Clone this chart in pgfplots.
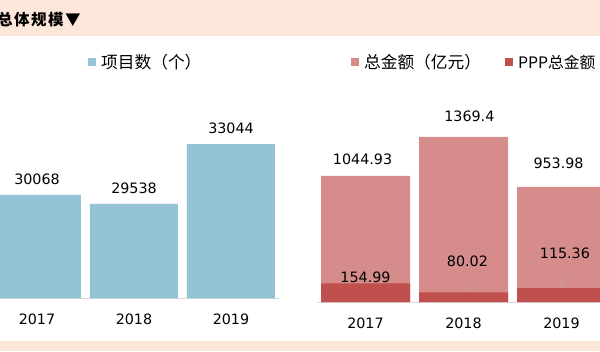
\documentclass[border=0pt]{standalone}
\usepackage{pgfplots}
\pgfplotsset{compat=1.18}
\usepackage{fontspec}
\setmainfont{DejaVu Sans}
\newfontfamily\cjk{Noto Sans CJK SC}
\definecolor{barblue}{RGB}{147,195,212}
\definecolor{totpink}{RGB}{213,140,138}
\definecolor{pppred}{RGB}{192,80,77}
\definecolor{peach}{RGB}{252,231,218}
\definecolor{axisgray}{RGB}{217,217,217}
\newcommand{\numfont}{\fontsize{14.3}{16}\selectfont}
\newcommand{\legfont}{\cjk\fontsize{16.7}{19}\selectfont}
\begin{document}
\begin{tikzpicture}[x=1pt,y=1pt]
\path[use as bounding box] (0,0) rectangle (600,351);
\clip (0,0) rectangle (600,351);
\fill[white] (0,0) rectangle (600,351);
\fill[peach] (0,315.3) rectangle (600,351);
\fill[peach] (0,0) rectangle (600,10);
\node[anchor=west, inner sep=0pt] at (-3,331) {\cjk\bfseries\fontsize{15.5}{18}\selectfont 总\hspace{1.5pt}体\hspace{1.5pt}规\hspace{1.5pt}模\hspace{1.5pt}▼};
% left chart
\begin{axis}[
  at={(-11.5pt,52.7pt)}, anchor=south west,
  scale only axis, width=291pt, height=170.4pt,
  xmin=-0.5, xmax=2.5, ymin=24000, ymax=34000,
  axis x line*=bottom, axis y line=none,
  x axis line style={draw=axisgray, line width=0.8pt, -},
  xtick={0,1,2}, xticklabels={2017,2018,2019},
  major tick length=0pt, ytick=\empty,
  xticklabel style={font=\numfont, yshift=-12pt},
  clip=false,
  ybar, bar width=88pt,
  nodes near coords, point meta=explicit symbolic,
  every node near coord/.append style={font=\numfont, anchor=south, yshift=7pt},
  legend style={at={(axis description cs:0.342,1.387)}, anchor=west, draw=none, fill=none, inner sep=0pt, font=\legfont,
    /tikz/every odd column/.append style={column sep=3pt}},
  legend image code/.code={\fill[#1] (0pt,-4pt) rectangle (8pt,4pt);},
]
\addplot[fill=barblue, draw=none] coordinates {(0,30068)[30068] (1,29538)[29538] (2,33044)[33044]};
\addlegendentry{项目数（个）}
\end{axis}
% right chart
\begin{axis}[
  at={(316.5pt,49pt)}, anchor=south west,
  scale only axis, width=294pt, height=192.96pt,
  xmin=-0.5, xmax=2.5, ymin=0, ymax=1600,
  axis x line*=bottom, axis y line=none,
  x axis line style={draw=axisgray, line width=0.8pt, -},
  xtick={0,1,2}, xticklabels={2017,2018,2019},
  major tick length=0pt, ytick=\empty,
  xticklabel style={font=\numfont, yshift=-12pt},
  clip=false,
  ybar, bar width=89pt, bar shift=0pt,
  legend columns=2,
  legend style={at={(axis description cs:0.117,1.2435)}, anchor=west, draw=none, fill=none, inner sep=0pt, font=\legfont,
    /tikz/every odd column/.append style={column sep=3pt},
    /tikz/every even column/.append style={column sep=22pt}},
  legend image code/.code={\fill[#1] (0pt,-4pt) rectangle (8pt,4pt);},
]
\addplot[fill=totpink, draw=none] coordinates {(0,1044.93) (1,1369.4) (2,953.98)};
\addlegendentry{总金额（亿元）}
\addplot[fill=pppred, draw=none] coordinates {(0,154.99) (1,80.02) (2,115.36)};
\addlegendentry{\fontsize{15.8}{19}\selectfont PPP总金额}
\draw[gray!60, line width=0.5pt] (axis cs:0.995,83) -- (axis cs:1.036,133);
\draw[gray!60, line width=0.5pt] (axis cs:1.995,114) -- (axis cs:2.035,201);
\node[font=\numfont, inner sep=0pt] at (axis cs:-0.03,1186) {1044.93};
\node[font=\numfont, inner sep=0pt] at (axis cs:1.06,1542) {1369.4};
\node[font=\numfont, inner sep=0pt] at (axis cs:1.97,1153) {953.98};
\node[font=\numfont, inner sep=0pt] at (axis cs:0,207) {154.99};
\node[font=\numfont, inner sep=0pt] at (axis cs:1.04,340) {80.02};
\node[font=\numfont, inner sep=0pt] at (axis cs:2.035,406) {115.36};
\end{axis}
\end{tikzpicture}
\end{document}
